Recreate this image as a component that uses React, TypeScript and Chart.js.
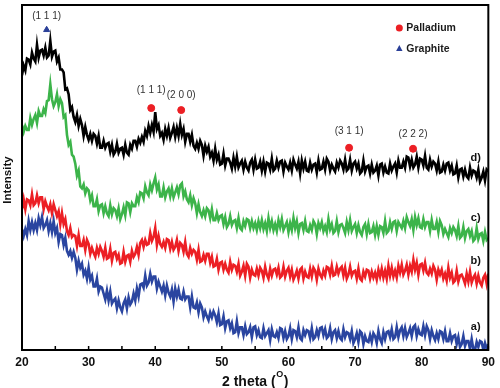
import React, { useEffect, useRef } from "react";
import { Chart, registerables } from "chart.js";

Chart.register(...registerables);

// 2θ grid (degrees), 0.25° steps from 20 to 90
const THETA: number[] = Array.from({ length: 281 }, (_, i) => 20 + i * 0.25);

// a) blue
const SERIES_A = [
  122, 115, 122, 116, 130, 121, 129, 121, 128, 121, 133, 126, 134, 123, 126, 131, 120, 128, 119, 130,
  118, 123, 109, 117, 116, 106, 113, 100, 96, 100, 93, 99, 93, 81, 90, 83, 87, 76, 80, 72,
  83, 71, 75, 64, 64, 72, 59, 64, 63, 57, 51, 60, 50, 59, 47, 50, 52, 42, 50, 43,
  39, 47, 51, 42, 53, 46, 49, 57, 50, 62, 54, 66, 67, 63, 75, 65, 68, 77, 69, 74,
  74, 62, 69, 64, 59, 65, 55, 65, 58, 54, 61, 49, 62, 54, 61, 52, 51, 59, 51, 54,
  54, 43, 54, 43, 42, 48, 38, 47, 43, 33, 39, 34, 30, 38, 33, 39, 35, 28, 37, 25,
  26, 34, 22, 29, 30, 22, 27, 17, 18, 29, 17, 23, 23, 15, 24, 16, 18, 23, 13, 23,
  24, 15, 20, 13, 12, 22, 14, 17, 20, 10, 21, 14, 13, 18, 12, 22, 21, 12, 19, 11,
  14, 22, 11, 20, 19, 13, 23, 12, 10, 20, 15, 20, 19, 12, 22, 11, 13, 20, 14, 22,
  23, 15, 21, 12, 14, 22, 11, 18, 20, 12, 19, 12, 10, 21, 13, 18, 17, 11, 19, 7,
  11, 17, 8, 19, 17, 6, 14, 9, 8, 15, 8, 17, 14, 7, 19, 11, 7, 18, 11, 18,
  19, 13, 21, 11, 13, 23, 13, 20, 23, 14, 22, 13, 17, 22, 14, 23, 25, 14, 21, 16,
  15, 24, 15, 24, 20, 11, 20, 14, 10, 17, 11, 19, 18, 11, 19, 9, 9, 17, 9, 14,
  15, 6, 13, 3, 6, 14, 4, 9, 9, 1, 11, 1, 0, 8, 3, 9, 8, 0, 7, 1,
  6,
];

// b) red
const SERIES_B = [
  142, 152, 142, 152, 151, 146, 157, 146, 148, 156, 148, 154, 154, 142, 150, 145, 141, 147, 138, 147,
  141, 135, 140, 127, 138, 127, 132, 120, 116, 123, 114, 116, 115, 105, 116, 105, 105, 111, 101, 111,
  107, 97, 103, 98, 94, 103, 97, 104, 100, 94, 103, 92, 93, 102, 90, 98, 99, 92, 96, 87,
  88, 99, 89, 95, 96, 89, 100, 94, 97, 104, 96, 108, 111, 104, 111, 106, 107, 118, 110, 114,
  123, 106, 115, 107, 104, 109, 103, 112, 111, 102, 109, 101, 104, 111, 100, 108, 106, 99, 109, 97,
  94, 103, 97, 101, 99, 91, 101, 89, 90, 96, 90, 97, 97, 88, 94, 84, 85, 92, 81, 88,
  89, 81, 87, 81, 78, 89, 81, 86, 85, 79, 87, 75, 79, 85, 75, 87, 84, 73, 81, 76,
  75, 82, 75, 83, 80, 73, 84, 76, 72, 82, 75, 81, 82, 76, 83, 73, 75, 84, 74, 80,
  83, 74, 81, 71, 75, 80, 72, 81, 83, 72, 79, 74, 73, 82, 74, 83, 80, 71, 82, 76,
  73, 80, 75, 84, 83, 76, 85, 75, 76, 84, 77, 82, 84, 75, 83, 72, 76, 84, 75, 79,
  80, 72, 82, 72, 70, 79, 74, 81, 80, 72, 79, 73, 78, 71, 81, 74, 82, 73, 80, 72,
  85, 75, 83, 74, 80, 73, 85, 78, 86, 76, 80, 86, 76, 85, 79, 91, 81, 88, 76, 86,
  87, 80, 88, 78, 76, 82, 77, 85, 81, 71, 81, 76, 81, 72, 77, 70, 83, 73, 78, 68,
  70, 80, 69, 75, 76, 72, 67, 77, 69, 79, 68, 73, 76, 67, 75, 68, 65, 73, 76, 67,
  77,
];

// c) green
const SERIES_C = [
  227, 220, 226, 222, 222, 234, 227, 233, 237, 229, 241, 236, 236, 243, 239, 251, 252, 268, 253, 246,
  250, 258, 246, 253, 249, 235, 237, 217, 207, 210, 197, 195, 188, 176, 181, 165, 163, 167, 158, 163,
  161, 151, 156, 145, 145, 152, 140, 146, 147, 138, 145, 138, 135, 146, 137, 143, 141, 135, 143, 132,
  137, 144, 136, 149, 148, 139, 148, 145, 145, 154, 149, 159, 158, 153, 165, 159, 156, 167, 161, 168,
  174, 162, 167, 155, 155, 164, 154, 160, 163, 155, 163, 154, 159, 164, 157, 166, 168, 155, 160, 152,
  149, 156, 146, 153, 148, 138, 147, 139, 135, 141, 135, 143, 141, 133, 142, 131, 131, 138, 131, 135,
  136, 127, 134, 124, 127, 135, 126, 130, 131, 123, 133, 123, 121, 130, 125, 132, 131, 123, 130, 123,
  128, 121, 130, 123, 131, 122, 128, 120, 133, 123, 130, 121, 127, 120, 131, 124, 132, 121, 125, 129,
  119, 128, 121, 133, 123, 130, 118, 127, 128, 121, 130, 120, 119, 126, 121, 130, 127, 117, 128, 123,
  129, 120, 125, 119, 132, 122, 127, 118, 120, 130, 119, 126, 127, 123, 118, 129, 121, 131, 120, 124,
  127, 118, 126, 119, 116, 124, 127, 117, 127, 118, 119, 125, 116, 125, 116, 125, 124, 118, 130, 118,
  120, 129, 122, 129, 130, 120, 129, 126, 123, 130, 123, 134, 129, 125, 132, 121, 134, 126, 133, 124,
  123, 132, 124, 129, 129, 120, 131, 122, 122, 129, 119, 130, 126, 117, 122, 118, 114, 123, 118, 124,
  121, 115, 125, 113, 115, 124, 113, 120, 122, 115, 120, 110, 112, 123, 112, 117, 118, 110, 119, 111,
  113,
];

// d) black
const SERIES_D = [
  277, 287, 282, 294, 293, 288, 300, 294, 291, 308, 295, 302, 303, 297, 305, 295, 297, 312, 296, 301,
  302, 291, 295, 283, 283, 280, 263, 264, 258, 242, 245, 235, 230, 237, 226, 233, 227, 216, 225, 217,
  212, 218, 211, 218, 216, 208, 216, 204, 204, 211, 204, 208, 209, 200, 207, 197, 200, 208, 199, 203,
  204, 197, 207, 199, 197, 207, 203, 211, 211, 205, 213, 209, 215, 210, 221, 216, 226, 219, 227, 220,
  240, 223, 227, 216, 219, 212, 223, 216, 224, 214, 219, 225, 215, 224, 216, 228, 217, 223, 210, 218,
  218, 210, 217, 206, 203, 209, 203, 211, 207, 196, 206, 200, 205, 195, 199, 191, 203, 192, 197, 187,
  188, 198, 186, 193, 193, 189, 183, 194, 185, 195, 184, 188, 191, 182, 190, 184, 181, 189, 192, 182,
  192, 183, 184, 190, 181, 190, 180, 189, 188, 182, 193, 181, 183, 191, 184, 190, 191, 180, 189, 185,
  182, 189, 181, 192, 187, 183, 190, 178, 191, 183, 190, 181, 180, 189, 182, 187, 188, 179, 191, 182,
  183, 190, 182, 193, 190, 181, 187, 183, 180, 189, 184, 191, 188, 182, 192, 181, 183, 192, 181, 188,
  190, 183, 188, 178, 180, 191, 180, 185, 186, 178, 187, 179, 181, 186, 176, 187, 188, 179, 185, 179,
  178, 188, 181, 185, 188, 179, 191, 184, 184, 190, 184, 195, 194, 185, 192, 184, 187, 195, 184, 193,
  192, 186, 196, 184, 182, 192, 185, 190, 188, 181, 190, 179, 180, 187, 181, 188, 189, 181, 186, 177,
  178, 186, 174, 182, 183, 175, 182, 175, 173, 184, 176, 181, 180, 174, 182, 170, 174, 180, 171, 182,
  180,
];

const SERIES_LABELS = ["a)", "b)", "c)", "d)"];
const SERIES_COLORS = ["#2a45a0", "#ec1f24", "#3cb44a", "#000000"];
const SERIES_LABEL_POS_X = [88.1, 88.1, 88.1, 88.1];
const SERIES_LABEL_POS_Y = [23, 90, 133, 194];

// reflections
const PEAK_TEXT = ["(1 1 1)", "(1 1 1)", "(2 0 0)", "(3 1 1)", "(2 2 2)"];
const PEAK_PHASE = ["Graphite", "Palladium", "Palladium", "Palladium", "Palladium"];
const PEAK_THETA = [23.7, 39.4, 43.9, 69.1, 78.7];
const PEAK_MARK_Y = [323, 244, 242, 204, 203];
const PEAK_TEXT_Y = [337, 262, 257, 221, 218];

const X_TICKS = [20, 25, 30, 35, 40, 45, 50, 55, 60, 65, 70, 75, 80, 85, 90];

const FONT = '"Liberation Sans", Arial, "DejaVu Sans", sans-serif';

export default function App() {
  const ref = useRef<HTMLCanvasElement | null>(null);

  useEffect(() => {
    const canvas = ref.current;
    if (!canvas) return;
    const seriesData = [SERIES_A, SERIES_B, SERIES_C, SERIES_D];

    const datasets: any[] = seriesData.map((s, k) => ({
      type: "line",
      label: SERIES_LABELS[k],
      data: THETA.map((t, i) => ({ x: t, y: s[i] })),
      borderColor: SERIES_COLORS[k],
      borderWidth: 2.6,
      borderJoinStyle: "miter",
      pointRadius: 0,
      tension: 0,
      fill: false,
    }));

    const pdIdx = PEAK_PHASE.map((p, i) => (p === "Palladium" ? i : -1)).filter((i) => i >= 0);
    const grIdx = PEAK_PHASE.map((p, i) => (p === "Graphite" ? i : -1)).filter((i) => i >= 0);

    datasets.push({
      type: "scatter",
      label: "Palladium",
      data: pdIdx.map((i) => ({ x: PEAK_THETA[i], y: PEAK_MARK_Y[i] })),
      backgroundColor: "#ec1f24",
      borderColor: "#ec1f24",
      pointStyle: "circle",
      pointRadius: 3.5,
      showLine: false,
    });
    datasets.push({
      type: "scatter",
      label: "Graphite",
      data: grIdx.map((i) => ({ x: PEAK_THETA[i], y: PEAK_MARK_Y[i] })),
      backgroundColor: "#2a3f98",
      borderColor: "#2a3f98",
      pointStyle: "triangle",
      pointRadius: 3.5,
      showLine: false,
    });

    const decor = {
      id: "decor",
      afterDraw(chart: any) {
        const { ctx, chartArea: ca, scales } = chart;
        const xs = scales.x;
        const ys = scales.y;
        ctx.save();
        // frame
        ctx.strokeStyle = "#000";
        ctx.lineWidth = 2;
        ctx.strokeRect(ca.left, ca.top, ca.right - ca.left, ca.bottom - ca.top);
        // inward ticks
        ctx.lineWidth = 1.5;
        X_TICKS.forEach((v) => {
          const px = xs.getPixelForValue(v);
          ctx.beginPath();
          ctx.moveTo(px, ca.bottom);
          ctx.lineTo(px, ca.bottom - 4);
          ctx.stroke();
        });
        // peak labels
        ctx.fillStyle = "#333";
        ctx.font = `10px ${FONT}`;
        ctx.textAlign = "center";
        ctx.textBaseline = "middle";
        PEAK_TEXT.forEach((t, i) => {
          ctx.fillText(t, xs.getPixelForValue(PEAK_THETA[i]), ys.getPixelForValue(PEAK_TEXT_Y[i]));
        });
        // curve labels
        ctx.fillStyle = "#111";
        ctx.font = `bold 11px ${FONT}`;
        SERIES_LABELS.forEach((t, i) => {
          ctx.fillText(t, xs.getPixelForValue(SERIES_LABEL_POS_X[i]), ys.getPixelForValue(SERIES_LABEL_POS_Y[i]));
        });
        // legend
        const lx = ca.right - 89;
        ctx.fillStyle = "#ec1f24";
        ctx.beginPath();
        ctx.arc(lx, ca.top + 23, 3.5, 0, Math.PI * 2);
        ctx.fill();
        ctx.fillStyle = "#2a3f98";
        ctx.beginPath();
        ctx.moveTo(lx, ca.top + 40);
        ctx.lineTo(lx + 3.2, ca.top + 46);
        ctx.lineTo(lx - 3.2, ca.top + 46);
        ctx.closePath();
        ctx.fill();
        ctx.fillStyle = "#1a1a1a";
        ctx.font = `bold 10.5px ${FONT}`;
        ctx.textAlign = "left";
        ctx.fillText("Palladium", lx + 7, ca.top + 23);
        ctx.fillText("Graphite", lx + 7, ca.top + 44);
        // y title
        ctx.save();
        ctx.translate(8, 180);
        ctx.rotate(-Math.PI / 2);
        ctx.textAlign = "center";
        ctx.fillStyle = "#111";
        ctx.font = `bold 11.5px ${FONT}`;
        ctx.fillText("Intensity", 0, 0);
        ctx.restore();
        // x title with superscript
        ctx.fillStyle = "#111";
        ctx.textBaseline = "alphabetic";
        const main = "2 theta (";
        const sup = "O";
        const close = ")";
        ctx.font = `bold 14px ${FONT}`;
        const w1 = ctx.measureText(main).width;
        const w3 = ctx.measureText(close).width;
        ctx.font = `bold 9px ${FONT}`;
        const w2 = ctx.measureText(sup).width;
        const total = w1 + w2 + 1 + w3;
        let tx = (ca.left + ca.right) / 2 - total / 2;
        const base = 386;
        ctx.font = `bold 14px ${FONT}`;
        ctx.fillText(main, tx, base);
        tx += w1;
        ctx.font = `bold 9px ${FONT}`;
        ctx.fillText(sup, tx + 0.5, base - 9);
        tx += w2 + 1;
        ctx.font = `bold 14px ${FONT}`;
        ctx.fillText(close, tx, base);
        ctx.restore();
      },
    };

    const chart = new Chart(canvas, {
      type: "line",
      data: { datasets },
      options: {
        animation: false,
        responsive: false,
        maintainAspectRatio: false,
        layout: { padding: { top: 2, right: 8, left: 0, bottom: 0 } },
        plugins: { legend: { display: false }, tooltip: { enabled: false } },
        scales: {
          x: {
            type: "linear",
            min: 20,
            max: 90,
            afterBuildTicks: (s: any) => {
              s.ticks = X_TICKS.map((v) => ({ value: v }));
            },
            afterFit: (s: any) => {
              s.height = 38;
            },
            grid: { display: false, drawTicks: false },
            border: { display: false },
            ticks: {
              padding: 5,
              color: "#111",
              font: { family: FONT, size: 12, weight: "bold" },
              maxRotation: 0,
              autoSkip: false,
              callback: (v: any) => (Number(v) % 10 === 0 ? String(v) : ""),
            },
          },
          y: {
            type: "linear",
            min: 0,
            max: 348,
            afterFit: (s: any) => {
              s.width = 22;
            },
            grid: { display: false, drawTicks: false },
            border: { display: false },
            ticks: { display: false },
          },
        },
      },
      plugins: [decor],
    } as any);

    return () => chart.destroy();
  }, []);

  return (
    <div style={{ position: "fixed", left: 0, top: 0, width: 500, height: 388, background: "#fff" }}>
      <canvas ref={ref} width={500} height={388} style={{ width: 500, height: 388, display: "block" }} />
    </div>
  );
}
